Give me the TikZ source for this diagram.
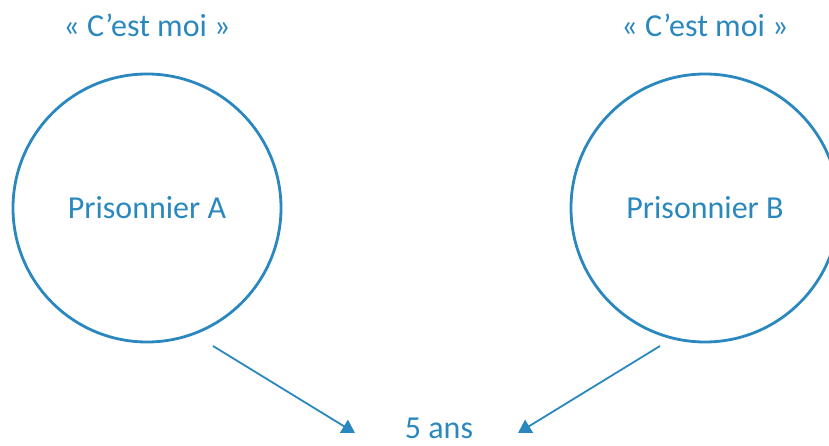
\documentclass[tikz,border=0pt]{standalone}
\usepackage{fontspec}
\setmainfont{Carlito}
\usetikzlibrary{arrows.meta}
\definecolor{blu}{RGB}{42,136,190}
\begin{document}
\begin{tikzpicture}[x=1pt,y=-1pt,
  every node/.style={text=blu,font=\fontsize{32}{38}\selectfont},
  pris/.style={circle,draw=blu,line width=2.8pt,minimum size=268pt,inner sep=0pt},
  lbl/.style={anchor=base,inner sep=0pt},
  conn/.style={draw=blu,line width=1.8pt,-{Triangle[length=13pt,width=15pt]}}]
\useasboundingbox (0,0) rectangle (829,446);
\clip (0,0) rectangle (829,446);
\node[pris] (A) at (147,208) {Prisonnier A};
\node[pris] (B) at (705,208) {Prisonnier B};
\node[lbl] (qa) at (147,37) {« C’est moi »};
\node[lbl] (qb) at (705,37) {« C’est moi »};
\node[lbl] (ans) at (439,438) {5 ans};
\coordinate (a0) at (213,346);
\coordinate (a1) at (355,433);
\coordinate (b0) at (660,346);
\coordinate (b1) at (518,433);
\draw[conn] (a0) -- (a1);
\draw[conn] (b0) -- (b1);
\end{tikzpicture}
\end{document}
